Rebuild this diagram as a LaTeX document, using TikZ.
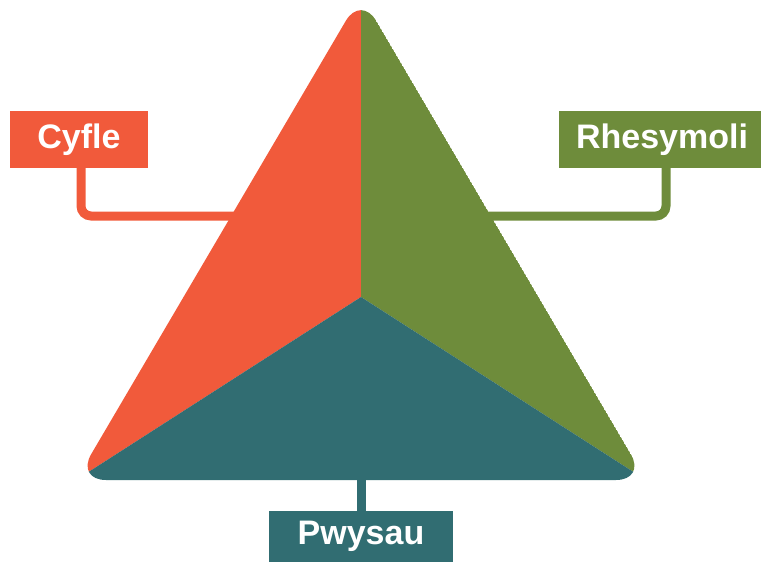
\documentclass[tikz,border=0pt]{standalone}
\usepackage{fontspec}
\setmainfont{Liberation Sans}
\usepackage{xcolor}
\usepackage{tikz}
\usetikzlibrary{shapes, arrows}
\definecolor{cyflecol}{HTML}{F15A3B}
\definecolor{rhesycol}{HTML}{6E8C3B}
\definecolor{pwyscol}{HTML}{316D72}

\begin{document}
\begin{tikzpicture}[x=1pt,y=-1pt]
            \tikzstyle{labelbox}=[rectangle, inner sep=0pt, text=white, font=\fontsize{34}{40}\selectfont\bfseries]
            \tikzstyle{link}=[line width=9pt, rounded corners=10pt]
            \useasboundingbox (0,0) rectangle (761,562);
            \coordinate (apex) at (361,-5);
            \coordinate (bl) at (76,480);
            \coordinate (br) at (646,480);
            \coordinate (mid) at (361,297);
            \node[labelbox, fill=cyflecol, minimum width=138pt, minimum height=57pt] (cyfle) at (79,139.5) {Cyfle};
            \node[labelbox, fill=rhesycol, minimum width=206pt, minimum height=57pt] (rhesy) at (662,139.5) {Rhesymoli};
            \node[labelbox, fill=pwyscol, minimum width=184pt, minimum height=51pt] (pwys) at (361,536.5) {Pwysau};
            \coordinate (cyfleend) at (250,216);
            \coordinate (rhesyend) at (475,216);
            \coordinate (pwysend) at (361,460);
            \draw[link, cyflecol] ([xshift=2pt]cyfle.south) |- (cyfleend);
            \draw[link, rhesycol] ([xshift=4pt]rhesy.south) |- (rhesyend);
            \draw[link, pwyscol] (pwysend) -- (pwys.north);
            \begin{scope}
            \clip[rounded corners=30pt] (apex) -- (br) -- (bl) -- cycle;
            \fill[cyflecol] (apex) -- (bl) -- (mid) -- cycle;
            \fill[rhesycol] (apex) -- (br) -- (mid) -- cycle;
            \fill[pwyscol] (bl) -- (br) -- (mid) -- cycle;
            \end{scope}
\end{tikzpicture}
\end{document}
